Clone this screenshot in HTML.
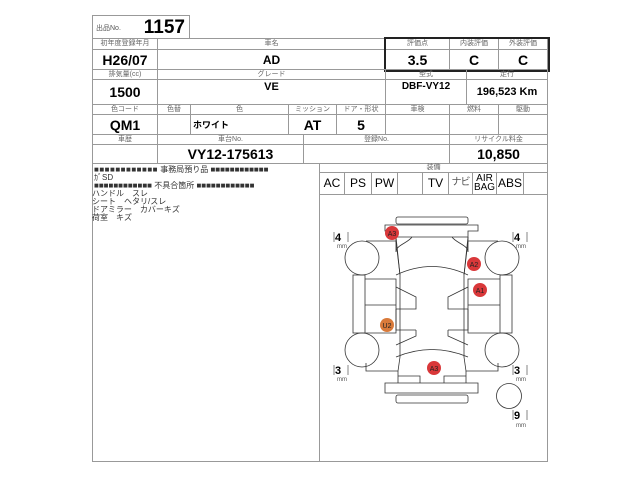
<!DOCTYPE html>
<html><head><meta charset="utf-8"><style>
body{margin:0;width:640px;height:480px;background:#fff;font-family:"Liberation Sans","Noto Sans CJK JP",sans-serif;position:relative;overflow:hidden}
.c{position:absolute;border:1px solid #999;box-sizing:border-box;text-align:center;color:#000}
.h{font-size:7px;color:#666;line-height:10px}
.v{font-weight:bold;font-size:14px}
.t{position:absolute;font-size:8px;line-height:8px;white-space:nowrap;color:#333}
</style></head><body>
<div class="c" style="left:92px;top:15px;width:98px;height:24px"><span style="position:absolute;left:3px;top:7px;font-size:7px;color:#555">出品No.</span><span style="position:absolute;right:4px;top:1px;font-size:19px;font-weight:bold">1157</span></div>

<div class="c h" style="left:92px;top:38px;width:66px;height:12px">初年度登録年月</div>
<div class="c h" style="left:157px;top:38px;width:229px;height:12px">車名</div>
<div class="c h" style="left:385px;top:38px;width:65px;height:12px">評価点</div>
<div class="c h" style="left:449px;top:38px;width:50px;height:12px">内装評価</div>
<div class="c h" style="left:498px;top:38px;width:50px;height:12px">外装評価</div>
<div class="c v" style="left:92px;top:49px;width:66px;height:21px;line-height:20px">H26/07</div>
<div class="c v" style="left:157px;top:49px;width:229px;height:21px;line-height:20px;font-size:12px">AD</div>
<div class="c v" style="left:385px;top:49px;width:65px;height:21px;line-height:20px">3.5</div>
<div class="c v" style="left:449px;top:49px;width:50px;height:21px;line-height:20px">C</div>
<div class="c v" style="left:498px;top:49px;width:50px;height:21px;line-height:20px">C</div>
<div style="position:absolute;left:384px;top:37px;width:162px;height:31px;border:2px solid #222"></div>
<div class="c h" style="left:92px;top:69px;width:66px;height:11px">排気量(cc)</div>
<div class="c h" style="left:157px;top:69px;width:229px;height:11px">グレード</div>
<div class="c h" style="left:385px;top:69px;width:82px;height:11px">型式</div>
<div class="c h" style="left:466px;top:69px;width:82px;height:11px">走行</div>
<div class="c v" style="left:92px;top:79px;width:66px;height:26px;line-height:24px">1500</div>
<div class="c v" style="left:157px;top:79px;width:229px;height:26px;font-size:11px;line-height:14px">VE</div>
<div class="c v" style="left:385px;top:79px;width:82px;height:26px;font-size:10px;line-height:14px">DBF-VY12</div>
<div class="c v" style="left:466px;top:79px;width:82px;height:26px;font-size:11px;line-height:24px">196,523 Km</div>
<div class="c h" style="left:92px;top:104px;width:66px;height:11px">色コード</div>
<div class="c h" style="left:157px;top:104px;width:34px;height:11px">色替</div>
<div class="c h" style="left:190px;top:104px;width:99px;height:11px">色</div>
<div class="c h" style="left:288px;top:104px;width:49px;height:11px">ミッション</div>
<div class="c h" style="left:336px;top:104px;width:50px;height:11px">ドア・形状</div>
<div class="c h" style="left:385px;top:104px;width:65px;height:11px">車検</div>
<div class="c h" style="left:449px;top:104px;width:50px;height:11px">燃料</div>
<div class="c h" style="left:498px;top:104px;width:50px;height:11px">駆動</div>
<div class="c v" style="left:92px;top:114px;width:66px;height:21px;line-height:20px">QM1</div>
<div class="c" style="left:157px;top:114px;width:34px;height:21px"></div>
<div class="c" style="left:190px;top:114px;width:99px;height:21px;text-align:left;font-size:9px;font-weight:bold;line-height:20px;padding-left:2px">ホワイト</div>
<div class="c v" style="left:288px;top:114px;width:49px;height:21px;line-height:20px">AT</div>
<div class="c v" style="left:336px;top:114px;width:50px;height:21px;line-height:20px">5</div>
<div class="c" style="left:385px;top:114px;width:65px;height:21px"></div>
<div class="c" style="left:449px;top:114px;width:50px;height:21px"></div>
<div class="c" style="left:498px;top:114px;width:50px;height:21px"></div>
<div class="c h" style="left:92px;top:134px;width:66px;height:11px">車歴</div>
<div class="c h" style="left:157px;top:134px;width:147px;height:11px">車台No.</div>
<div class="c h" style="left:303px;top:134px;width:147px;height:11px">登録No.</div>
<div class="c h" style="left:449px;top:134px;width:99px;height:11px">リサイクル料金</div>
<div class="c" style="left:92px;top:144px;width:66px;height:20px"></div>
<div class="c v" style="left:157px;top:144px;width:147px;height:20px;line-height:19px">VY12-175613</div>
<div class="c" style="left:303px;top:144px;width:147px;height:20px"></div>
<div class="c v" style="left:449px;top:144px;width:99px;height:20px;line-height:19px">10,850</div>
<div class="c" style="left:92px;top:163px;width:228px;height:299px"></div>
<div class="c" style="left:319px;top:163px;width:229px;height:299px"></div>
<div class="c h" style="left:319px;top:163px;width:229px;height:10px;line-height:9px;border-width:0 0 1px 0">装備</div>
<div style="position:absolute;left:320px;top:172px;height:22px;display:flex;font-size:12px;text-align:center;line-height:22px;white-space:nowrap">
<div style="width:24px;border-right:1px solid #999">AC</div><div style="width:26px;border-right:1px solid #999">PS</div><div style="width:25px;border-right:1px solid #999">PW</div><div style="width:24px;border-right:1px solid #999"></div><div style="width:25px;border-right:1px solid #999">TV</div><div style="width:23px;border-right:1px solid #999;color:#555;font-size:10px;letter-spacing:-1px;overflow:hidden">ナビ</div><div style="width:24px;border-right:1px solid #999;font-size:10px;line-height:9px;padding-top:2px;box-sizing:border-box">AIR<br>BAG</div><div style="width:26px;border-right:1px solid #999">ABS</div><div style="width:26px"></div>
</div>
<div style="position:absolute;left:319px;top:194px;width:229px;border-top:1px solid #999"></div>
<div class="t" style="left:94px;top:166px"><b style="letter-spacing:0.5px">■■■■■■■■■■■■</b> 事務局預り品 <b>■■■■■■■■■■■■</b></div>
<div class="t" style="left:94px;top:174px">ｶﾞSD</div>
<div class="t" style="left:94px;top:182px"><b>■■■■■■■■■■■■</b> 不具合箇所 <b>■■■■■■■■■■■■</b></div>
<div class="t" style="left:92px;top:190px">ハンドル　スレ</div>
<div class="t" style="left:92px;top:198px">シート　ヘタリ/スレ</div>
<div class="t" style="left:92px;top:206px">ドアミラー　カバーキズ</div>
<div class="t" style="left:92px;top:214px">荷室　キズ</div>

<svg style="position:absolute;left:0;top:0" width="640" height="480" fill="none" stroke="#333" stroke-width="0.8" font-family="Liberation Sans,sans-serif">
<rect x="396" y="217" width="72" height="7" rx="2" fill="#fff"/>
<path d="M385 225H478V231H468V237H396V231H385Z"/>
<path d="M396 237V252C396 245 408 243 412 237M468 237V252C468 245 456 243 452 237"/>
<path d="M366 241H396L400 275M498 241H468L464 275"/>
<circle cx="362" cy="258" r="17"/><circle cx="502" cy="258" r="17"/>
<circle cx="362" cy="350" r="17"/><circle cx="502" cy="350" r="17"/>
<circle cx="509" cy="396" r="12.5"/>
<path d="M396 275Q432 258 468 275"/>
<path d="M396 237L400 275V357M468 237L464 275V357"/>
<rect x="353" y="275" width="12" height="58"/><rect x="500" y="275" width="12" height="58"/>
<path d="M365 279H396V333H365M365 305H396M500 279H468V333H500M500 305H468"/>
<path d="M396 287L416 297V309H396M468 287L448 297V309H468"/>
<path d="M396 309V330H416M468 309V330H448"/>
<path d="M416 330V336L396 345M448 330V336L468 345"/>
<path d="M396 357Q432 342 468 357"/>
<path d="M400 357L398 371H366V363M464 357L466 371H498V363"/>
<path d="M398 371V383M466 371V383M398 376H420V383M466 376H444V383"/>
<path d="M385 383H478V393H385Z"/>
<rect x="396" y="395" width="72" height="8" rx="2"/>
<g font-size="11" font-weight="bold" fill="#000" stroke="none">
<text x="335" y="241">4</text><text x="514" y="241">4</text>
<text x="335" y="374">3</text><text x="514" y="374">3</text><text x="514" y="419">9</text></g>
<g stroke="#999" stroke-width="1.2"><path d="M334 232V242M348 232V242"/><path d="M513 232V242M527 232V242"/><path d="M334 365V375M348 365V375"/><path d="M513 365V375M527 365V375"/><path d="M513 410V420M527 410V420"/></g>
<g font-size="6" fill="#555" stroke="none"><text x="337" y="248">mm</text><text x="516" y="248">mm</text><text x="337" y="381">mm</text><text x="516" y="381">mm</text><text x="516" y="427">mm</text></g>
<g stroke="none" font-size="7" text-anchor="middle">
<circle cx="392" cy="233" r="7" fill="#d9383a"/><text x="392" y="236" fill="#222">A3</text>
<circle cx="474" cy="264" r="7" fill="#d9383a"/><text x="474" y="267" fill="#222">A2</text>
<circle cx="480" cy="290" r="7" fill="#d9383a"/><text x="480" y="293" fill="#222">A1</text>
<circle cx="387" cy="325" r="7" fill="#d97a3a"/><text x="387" y="328" fill="#222">U2</text>
<circle cx="434" cy="368" r="7" fill="#d9383a"/><text x="434" y="371" fill="#222">A3</text>
</g>
</svg>
</body></html>
